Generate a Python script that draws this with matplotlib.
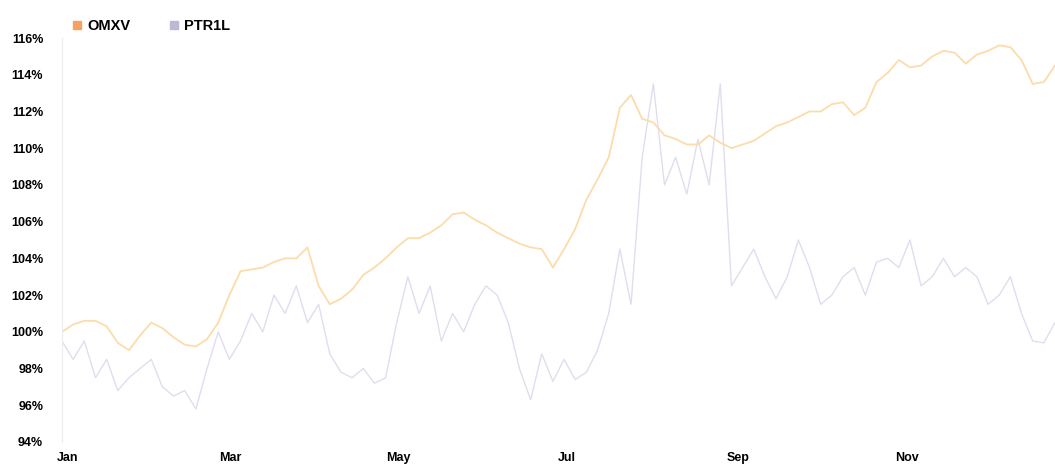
import matplotlib
matplotlib.use("Agg")
import matplotlib.pyplot as plt
import matplotlib.dates as mdates
from matplotlib.ticker import FuncFormatter
from matplotlib.lines import Line2D
import pandas as pd

dates = pd.date_range("2022-12-30", periods=90, freq="97h")

omxv = [100.0, 100.4, 100.6, 100.6, 100.3, 99.4, 99.0, 99.8, 100.5, 100.2,
        99.7, 99.3, 99.2, 99.6, 100.5, 102.0, 103.3, 103.4, 103.5, 103.8,
        104.0, 104.0, 104.6, 102.5, 101.5, 101.8, 102.3, 103.1, 103.5, 104.0,
        104.6, 105.1, 105.1, 105.4, 105.8, 106.4, 106.5, 106.1, 105.8, 105.4,
        105.1, 104.8, 104.6, 104.5, 103.5, 104.5, 105.6, 107.2, 108.3, 109.5,
        112.2, 112.9, 111.6, 111.4, 110.7, 110.5, 110.2, 110.2, 110.7, 110.3,
        110.0, 110.2, 110.4, 110.8, 111.2, 111.4, 111.7, 112.0, 112.0, 112.4,
        112.5, 111.8, 112.2, 113.6, 114.1, 114.8, 114.4, 114.5, 115.0, 115.3,
        115.2, 114.6, 115.1, 115.3, 115.6, 115.5, 114.8, 113.5, 113.6, 114.5]

ptr1l = [99.5, 98.5, 99.5, 97.5, 98.5, 96.8, 97.5, 98.0, 98.5, 97.0,
         96.5, 96.8, 95.8, 98.0, 100.0, 98.5, 99.5, 101.0, 100.0, 102.0,
         101.0, 102.5, 100.5, 101.5, 98.8, 97.8, 97.5, 98.0, 97.2, 97.5,
         100.5, 103.0, 101.0, 102.5, 99.5, 101.0, 100.0, 101.5, 102.5, 102.0,
         100.5, 98.0, 96.3, 98.8, 97.3, 98.5, 97.4, 97.8, 99.0, 101.0,
         104.5, 101.5, 109.5, 113.5, 108.0, 109.5, 107.5, 110.5, 108.0, 113.5,
         102.5, 103.5, 104.5, 103.0, 101.8, 103.0, 105.0, 103.5, 101.5, 102.0,
         103.0, 103.5, 102.0, 103.8, 104.0, 103.5, 105.0, 102.5, 103.0, 104.0,
         103.0, 103.5, 103.0, 101.5, 102.0, 103.0, 101.0, 99.5, 99.4, 100.5]

series_names = ["OMXV", "PTR1L"]
line_colors = ["#fcdcaa", "#e0ddef"]
marker_colors = ["#f7a060", "#bdb7d8"]

plt.rcParams["font.family"] = ["Liberation Sans", "DejaVu Sans"]

fig = plt.figure(figsize=(10.55, 4.65), dpi=100)
ax = fig.add_axes([62 / 1055, 23 / 465, 993 / 1055, 404 / 465])

ax.plot(dates, ptr1l, color=line_colors[1], lw=1.0)
ax.plot(dates, omxv, color=line_colors[0], lw=1.3)

ax.set_ylim(94, 116)
ax.set_yticks(range(94, 117, 2))
ax.yaxis.set_major_formatter(FuncFormatter(lambda v, p: f"{int(v)}%"))
ax.set_xlim(dates[0], dates[-1])
ax.xaxis.set_major_locator(mdates.MonthLocator(bymonth=[1, 3, 5, 7, 9, 11]))
ax.xaxis.set_major_formatter(mdates.DateFormatter("%b"))

for s in ["top", "right", "bottom"]:
    ax.spines[s].set_visible(False)
ax.spines["left"].set_color("#ececec")
ax.tick_params(axis="both", length=0, labelsize=9)
ax.tick_params(axis="y", pad=13.5)
ax.tick_params(axis="x", pad=7)
for lbl in ax.get_xticklabels() + ax.get_yticklabels():
    lbl.set_fontweight("bold")

handles = [Line2D([], [], ls="none", marker="s", markersize=6,
                  markerfacecolor=c, markeredgecolor=c) for c in marker_colors]
leg = fig.legend(handles, series_names, loc="upper left",
                 bbox_to_anchor=(58 / 1055, 1.0 - 6 / 465), ncol=2, frameon=False,
                 handletextpad=0.3, columnspacing=2.6, handlelength=0.8,
                 prop={"weight": "bold", "size": 10.5})

fig.savefig("out.png", dpi=100)
